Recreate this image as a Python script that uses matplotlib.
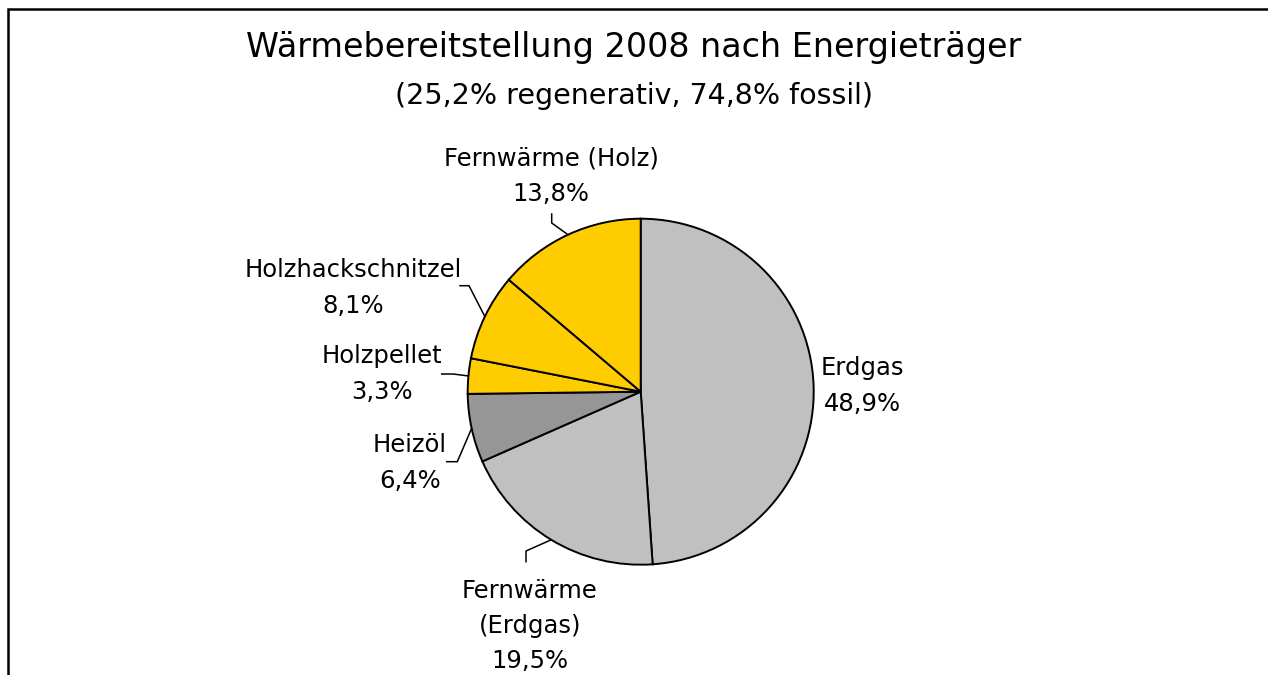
import numpy as np
import matplotlib
matplotlib.use("Agg")
import matplotlib.pyplot as plt
from matplotlib.patches import Rectangle

plt.rcParams['font.family'] = ['DejaVu Sans']

# Daten (im Uhrzeigersinn ab 12 Uhr)
labels = ['Erdgas', 'Fernwärme\n(Erdgas)', 'Heizöl', 'Holzpellet',
          'Holzhackschnitzel', 'Fernwärme (Holz)']
shares = [48.9, 19.5, 6.4, 3.3, 8.1, 13.8]
colors = ['#C0C0C0', '#C0C0C0', '#969696', '#FFCC00', '#FFCC00', '#FFCC00']

W, H = 1268, 675
CX, CY, R = 640.7, 391.7, 173.0


def px(x, y):
    """Pixel -> Datenkoordinaten (Radius = 1)"""
    return (x - CX) / R, (CY - y) / R


# Beschriftungspositionen (Pixel) und Knickpunkte der Führungslinien
label_pos = [(862, 386), (530, 626), (410, 463), (382, 374), (353, 288), (551, 176)]
elbow = [None, [(526, 561.7), (526, 551)], [(446.7, 461.7), (457.3, 461.7)],
         [(441.7, 374), (453, 374)], [(460, 285.7), (469, 285.7)],
         [(551.7, 214), (551.7, 223)]]

fig = plt.figure(figsize=(W / 100, H / 100), dpi=100)
ax = fig.add_axes([0, 0, 1, 1])

wedges, _ = ax.pie(shares, colors=colors, startangle=90, counterclock=False,
                   radius=1.0, wedgeprops=dict(edgecolor='black', linewidth=1.4))
ax.set_xlim(px(0, 0)[0], px(W, 0)[0])
ax.set_ylim(px(0, H)[1], px(0, 0)[1])
ax.set_aspect('auto')
ax.axis('off')

for i, (lab, val) in enumerate(zip(labels, shares)):
    txt = f"{lab}\n{val:.1f}%".replace('.', ',')
    lx, ly = px(*label_pos[i])
    ax.text(lx, ly, txt, ha='center', va='center', fontsize=17.5,
            linespacing=1.6, color='black')
    if elbow[i] is None:
        continue
    w = wedges[i]
    mid = np.deg2rad((w.theta1 + w.theta2) / 2)
    ex, ey = np.cos(mid), np.sin(mid)
    pts = [px(*p) for p in elbow[i]] + [(ex, ey)]
    ax.plot([p[0] for p in pts], [p[1] for p in pts], color='black', lw=1.1)

fig.text(634 / W, 1 - 48 / H, 'Wärmebereitstellung 2008 nach Energieträger',
         ha='center', va='center', fontsize=24)
fig.text(634 / W, 1 - 96 / H, '(25,2% regenerativ, 74,8% fossil)',
         ha='center', va='center', fontsize=20.5)

fig.add_artist(Rectangle((8 / W, -0.1), 1.2, 1 - 9 / H + 0.1, transform=fig.transFigure,
                         fill=False, edgecolor='black', linewidth=1.8, clip_on=False))

fig.savefig('out.png', dpi=100, facecolor='white')
